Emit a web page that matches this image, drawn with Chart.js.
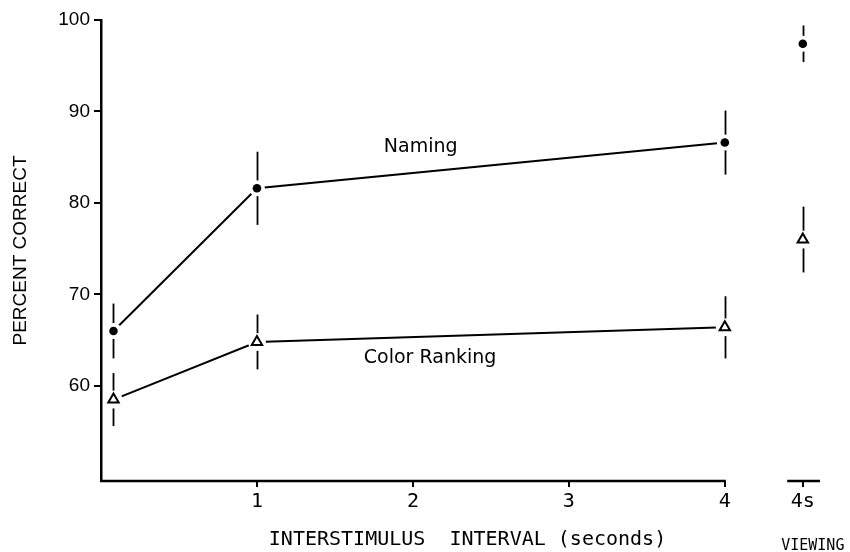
<!DOCTYPE html>
<html><head><meta charset="utf-8">
<script src="https://cdn.jsdelivr.net/npm/chart.js@4"></script>
<style>html,body{margin:0;padding:0;background:#fff;} #wrap{width:850px;height:552px;position:relative;}</style>
</head><body><div id="wrap"><canvas id="c" width="850" height="552" style="width:850px;height:552px"></canvas></div>
<script>
// ---- data ----
const intervals = [0.08, 1, 4, 4.5];            // 4.5 = the "4s viewing" slot
const namingValues = [66.0, 81.6, 86.6, 97.4];
const namingErrors = [3.0, 4.0, 3.5, 2.0];
const rankingValues = [58.5, 64.8, 66.4, 76.0];
const rankingErrors = [2.9, 3.0, 3.4, 3.6];
const xTickValues = [1, 2, 3, 4, 4.5];
const xTickLabels = ['1', '2', '3', '4', '4s'];
const yTickValues = [60, 70, 80, 90, 100];
const seriesNames = ['Naming', 'Color Ranking'];

const toPts = (vals) => intervals.map((x, i) => ({x: x, y: vals[i]}));
const noLastSeg = {borderColor: c => c.p1DataIndex === intervals.length - 1 ? 'rgba(0,0,0,0)' : '#000'};

const tickFont = {family: 'DejaVu Sans Mono', size: 20};
const numFont = {family: 'Liberation Sans', size: 19};

const extras = {
  id: 'extras',
  beforeDatasetsDraw(chart) {
    const {ctx, scales: {x, y}} = chart;
    ctx.save();
    ctx.strokeStyle = '#000';
    ctx.lineWidth = 2.5;
    ctx.beginPath();
    ctx.moveTo(x.getPixelForValue(0) - 1, y.bottom);
    ctx.lineTo(x.getPixelForValue(4) + 1, y.bottom);
    ctx.moveTo(x.getPixelForValue(4.4), y.bottom);
    ctx.lineTo(x.getPixelForValue(4.61), y.bottom);
    ctx.stroke();
    ctx.lineWidth = 1.8;
    [[namingValues, namingErrors], [rankingValues, rankingErrors]].forEach(([v, e]) => {
      intervals.forEach((xi, i) => {
        const px = Math.round(x.getPixelForValue(xi)) + 0.5;
        ctx.beginPath();
        ctx.moveTo(px, y.getPixelForValue(v[i] + e[i]));
        ctx.lineTo(px, y.getPixelForValue(v[i] - e[i]));
        ctx.stroke();
      });
    });
    ctx.restore();
  },
  afterDraw(chart) {
    const {ctx, scales: {x, y}} = chart;
    ctx.save();
    ctx.fillStyle = '#000';
    ctx.textAlign = 'center';
    ctx.textBaseline = 'middle';
    ctx.font = '19px "DejaVu Sans"';
    ctx.fillText(seriesNames[0], x.getPixelForValue(2.05), y.getPixelForValue(86.1));
    ctx.fillText(seriesNames[1], x.getPixelForValue(2.11), y.getPixelForValue(63.0));
    ctx.font = '15px "DejaVu Sans Mono"';
    ctx.fillText('VIEWING', x.getPixelForValue(4.5) + 10, 546);
    ctx.restore();
  }
};

new Chart(document.getElementById('c'), {
  type: 'scatter',
  data: {
    datasets: [
      {data: toPts(namingValues), showLine: true, borderColor: '#000', borderWidth: 2, pointRadius: 0, segment: noLastSeg, order: 5},
      {data: toPts(rankingValues), showLine: true, borderColor: '#000', borderWidth: 2, pointRadius: 0, segment: noLastSeg, order: 5},
      {data: toPts(namingValues), showLine: false, pointRadius: 8, pointBackgroundColor: '#fff', pointBorderWidth: 0, order: 4},
      {data: toPts(rankingValues), showLine: false, pointRadius: 9, pointBackgroundColor: '#fff', pointBorderWidth: 0, order: 4},
      {data: toPts(namingValues), showLine: false, pointStyle: 'circle', pointRadius: 4.3, pointBackgroundColor: '#000', pointBorderColor: '#000', pointBorderWidth: 0, order: 1},
      {data: toPts(rankingValues), showLine: false, pointStyle: 'triangle', pointRadius: 6, pointBackgroundColor: '#fff', pointBorderColor: '#000', pointBorderWidth: 2, order: 1}
    ]
  },
  options: {
    responsive: false,
    animation: false,
    devicePixelRatio: 1,
    layout: {padding: {top: 20, right: 16, left: 0, bottom: 0}},
    plugins: {legend: {display: false}, tooltip: {enabled: false}},
    scales: {
      x: {
        type: 'linear', min: 0, max: 4.7,
        afterFit: s => { s.height = 71; },
        afterBuildTicks: s => { s.ticks = xTickValues.map(v => ({value: v})); },
        border: {display: false},
        grid: {display: true, drawOnChartArea: false, drawTicks: true, tickLength: 6, color: '#000', lineWidth: 2},
        ticks: {color: '#000', font: tickFont, padding: 3, maxRotation: 0, autoSkip: false,
          callback: (v) => xTickLabels[xTickValues.indexOf(v)]},
        title: {display: true, text: 'INTERSTIMULUS  INTERVAL (seconds)', color: '#000',
          font: {family: 'DejaVu Sans Mono', size: 20}, padding: {top: 0, bottom: 0}}
      },
      y: {
        type: 'linear', min: 49.6, max: 100,
        afterFit: s => { s.width = 101; },
        afterBuildTicks: s => { s.ticks = yTickValues.map(v => ({value: v})); },
        border: {display: true, color: '#000', width: 2.5},
        grid: {display: true, drawOnChartArea: false, drawTicks: true, tickLength: 7, color: '#000', lineWidth: 2},
        ticks: {color: '#000', font: numFont, padding: 4},
        title: {display: true, text: 'PERCENT CORRECT', color: '#000', font: numFont, padding: {top: 9, bottom: 0}}
      }
    }
  },
  plugins: [extras]
});
</script>
</body></html>
